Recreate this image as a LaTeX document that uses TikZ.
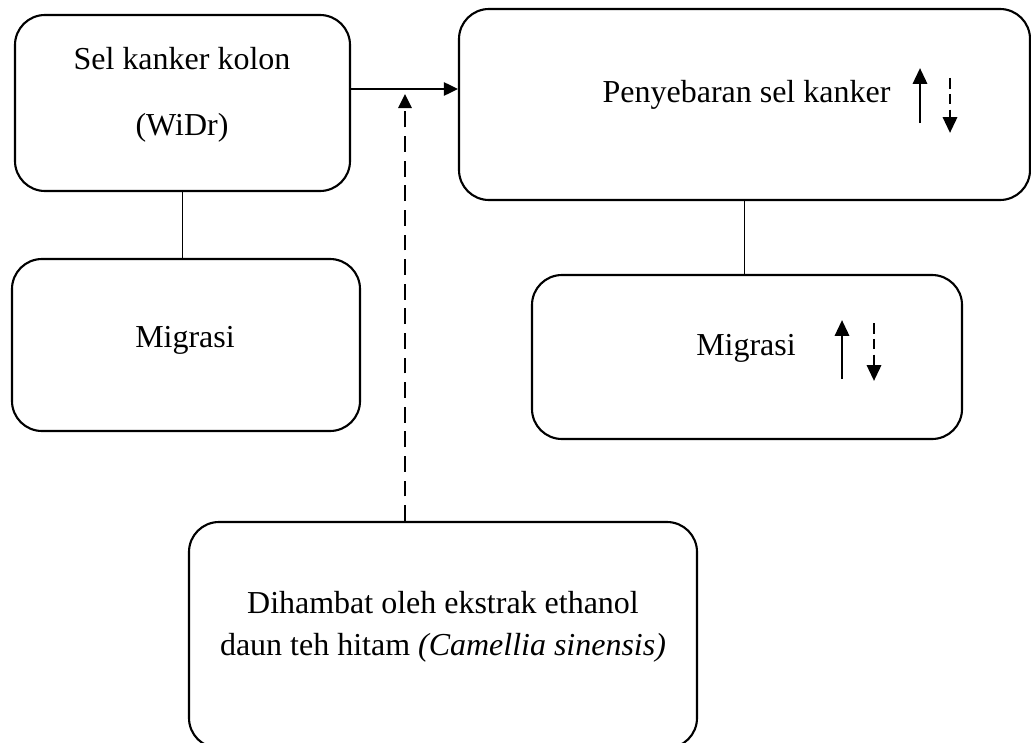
\documentclass[tikz,border=0pt]{standalone}
\usepackage{fontspec}
\setmainfont{Liberation Serif}
\usepackage{tikz}
\usetikzlibrary{arrows.meta}
\tikzset{
	boxstyle/.style={rectangle,rounded corners=0.6cm,draw=black,line width=1.2pt,fill=white},
	textstyle/.style={anchor=base,align=center,inner sep=0pt},
	linkstyle/.style={draw=black,line width=0.6pt},
	arrowstyle/.style={draw=black,line width=1.3pt,-{Triangle[length=8pt,width=7.5pt]}},
	dashstyle/.style={draw=black,line width=1.3pt,dash pattern=on 9pt off 5pt,-{Triangle[length=8pt,width=7.5pt]}},
	upstyle/.style={draw=black,line width=1.6pt,-{Triangle[length=9pt,width=8pt]}},
	downstyle/.style={draw=black,line width=1.6pt,dash pattern=on 6pt off 3pt,-{Triangle[length=9pt,width=8pt]}}
}
\begin{document}
\begin{tikzpicture}
		\fontsize{18.2}{37}\selectfont
		\clip (0,0) rectangle (20.62,-14.84);
		\node[boxstyle,minimum width=6.7cm,minimum height=3.52cm] (colon) at (3.65,-2.06) {};
		\node[boxstyle,minimum width=6.96cm,minimum height=3.44cm] (migr1) at (3.72,-6.90) {};
		\node[boxstyle,minimum width=11.42cm,minimum height=3.82cm] (spread) at (14.89,-2.09) {};
		\node[boxstyle,minimum width=8.6cm,minimum height=3.28cm] (migr2) at (14.94,-7.14) {};
		\node[boxstyle,minimum width=10.16cm,minimum height=4.52cm] (tea) at (8.86,-12.70) {};
		\node[textstyle] (colontxt) at (3.64,-2.70) {Sel kanker kolon\\(WiDr)};
		\node[textstyle] (migr1txt) at (3.70,-6.94) {Migrasi};
		\node[textstyle] (spreadtxt) at (14.93,-2.06) {Penyebaran sel kanker};
		\node[textstyle] (migr2txt) at (14.92,-7.10) {Migrasi};
		\node[textstyle,font=\fontsize{18.2}{23.5}\selectfont] (teatxt) at (8.86,-13.10) {Dihambat oleh ekstrak ethanol\\daun teh hitam \textit{(Camellia sinensis)}};
		\coordinate (up1a) at (18.40,-2.46);
		\coordinate (up1b) at (18.40,-1.36);
		\coordinate (dn1a) at (19.00,-1.56);
		\coordinate (dn1b) at (19.00,-2.66);
		\coordinate (up2a) at (16.84,-7.58);
		\coordinate (up2b) at (16.84,-6.40);
		\coordinate (dn2a) at (17.48,-6.46);
		\coordinate (dn2b) at (17.48,-7.62);
		\coordinate (joint) at (8.10,-1.78);
		\draw[upstyle] (up1a)--(up1b);
		\draw[downstyle] (dn1a)--(dn1b);
		\draw[upstyle] (up2a)--(up2b);
		\draw[downstyle] (dn2a)--(dn2b);
		\draw[linkstyle] (colon.south)--(colon.south |- migr1.north);
		\draw[linkstyle] (spread.south)--(spread.south |- migr2.north);
		\draw[arrowstyle] (colon.east |- joint)--(spread.west |- joint);
		\draw[dashstyle] (tea.north -| joint)--([yshift=-0.1cm]joint);
		\end{tikzpicture}
\end{document}
